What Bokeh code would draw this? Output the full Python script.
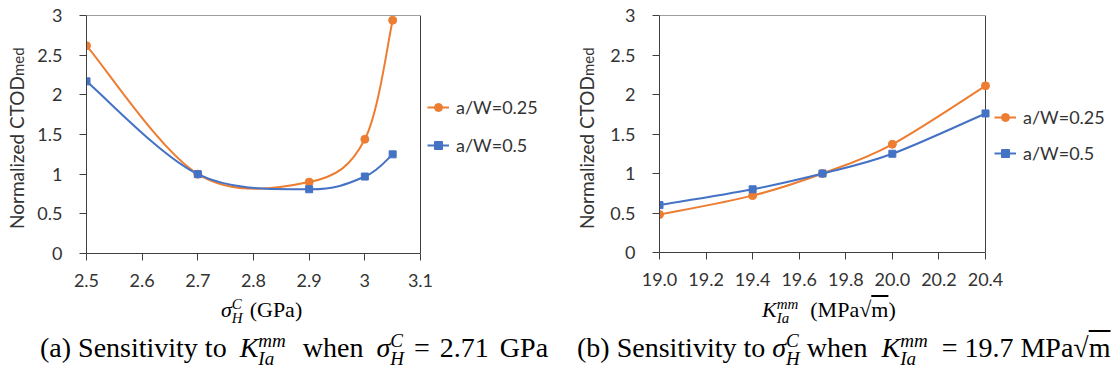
from bokeh.plotting import figure
from bokeh.models import (Legend, LegendItem, FixedTicker, Div, Range1d)
from bokeh.layouts import row, column
from bokeh.embed import file_html
from bokeh.resources import INLINE

# ---------------- data ----------------
series_names = ["a/W=0.25", "a/W=0.5"]

sigma_x = [2.5, 2.7, 2.9, 3.0, 3.05]
sigma_aw025 = [2.62, 1.00, 0.90, 1.44, 2.94]
sigma_aw05 = [2.17, 1.00, 0.81, 0.97, 1.25]

k_x = [19.0, 19.4, 19.7, 20.0, 20.4]
k_aw025 = [0.48, 0.72, 1.00, 1.37, 2.11]
k_aw05 = [0.60, 0.80, 1.00, 1.25, 1.76]

y_ticks = [0, 0.5, 1, 1.5, 2, 2.5, 3]
y_tick_labels = ["0", "0.5", "1", "1.5", "2", "2.5", "3"]
sigma_ticks = [2.5, 2.6, 2.7, 2.8, 2.9, 3.0, 3.1]
sigma_tick_labels = ["2.5", "2.6", "2.7", "2.8", "2.9", "3", "3.1"]
k_ticks = [19.0, 19.2, 19.4, 19.6, 19.8, 20.0, 20.2, 20.4]
k_tick_labels = ["19.0", "19.2", "19.4", "19.6", "19.8", "20.0", "20.2", "20.4"]

y_title = ("Normalized CTOD", "med")

ORANGE = "#ED7D31"
BLUE = "#4472C4"
AX = "#3f3f3f"
TXT = "#333333"
SANS = "Lato"
SERIF = "Liberation Serif"


def smooth(xs, ys, t=1.0 / 6.0):
    """Bezier control points (Excel-like smoothed line) from the data points."""
    n = len(xs)
    out = {k: [] for k in ("x0", "y0", "x1", "y1", "cx0", "cy0", "cx1", "cy1")}
    for i in range(n - 1):
        i0 = max(i - 1, 0)
        i3 = min(i + 2, n - 1)
        out["x0"].append(xs[i]); out["y0"].append(ys[i])
        out["x1"].append(xs[i + 1]); out["y1"].append(ys[i + 1])
        out["cx0"].append(xs[i] + (xs[i + 1] - xs[i0]) * t)
        out["cy0"].append(ys[i] + (ys[i + 1] - ys[i0]) * t)
        out["cx1"].append(xs[i + 1] - (xs[i3] - xs[i]) * t)
        out["cy1"].append(ys[i + 1] - (ys[i3] - ys[i]) * t)
    return out


def make_fig(width, axis_w, frame_h, left, top, bottom, xticks, xlabels):
    """Frame extends to the right edge (room for the legend); the axis box
    covers only the ticks' span."""
    frame_w = width - left
    x0, x1 = xticks[0], xticks[-1]
    x_end = x0 + (x1 - x0) * frame_w / axis_w
    p = figure(frame_width=frame_w, frame_height=frame_h,
               min_border_left=left, min_border_right=0,
               min_border_top=top, min_border_bottom=bottom,
               x_range=Range1d(x0, x_end), y_range=Range1d(y_ticks[0], y_ticks[-1]),
               output_backend="svg", toolbar_location=None,
               background_fill_color="white", border_fill_color="white")
    p.grid.visible = False
    p.outline_line_color = None
    p.xaxis.ticker = FixedTicker(ticks=xticks)
    p.xaxis.bounds = (x0, x1)
    p.xaxis.major_label_overrides = {t: l for t, l in zip(xticks, xlabels)}
    p.yaxis.ticker = FixedTicker(ticks=y_ticks)
    p.yaxis.major_label_overrides = {t: l for t, l in zip(y_ticks, y_tick_labels)}
    for ax in (p.xaxis[0], p.yaxis[0]):
        ax.axis_line_color = AX
        ax.major_tick_line_color = AX
        ax.major_tick_out = 7
        ax.major_tick_in = 0
        ax.minor_tick_line_color = None
        ax.major_label_text_font = SANS
        ax.major_label_text_font_size = "18px"
        ax.major_label_text_color = TXT
    p.xaxis.major_label_standoff = 13
    p.yaxis.major_label_standoff = 17
    # top and right sides of the plot box
    p.line(x=[x0, x1, x1], y=[y_ticks[-1], y_ticks[-1], y_ticks[0]],
           line_color=AX, line_width=1)
    return p


def add_series(p, xs, ys, color, marker, size, name):
    b = smooth(xs, ys)
    p.bezier(line_color=color, line_width=2, **b)
    ln = p.line(x=xs[:1], y=ys[:1], line_color=color, line_width=2)
    sc = p.scatter(x=xs, y=ys, marker=marker, size=size,
                   fill_color=color, line_color=color)
    return LegendItem(label=name, renderers=[ln, sc])


def add_legend(p, items, loc, spacing):
    lg = Legend(items=items, location=loc, orientation="vertical",
                glyph_width=22, glyph_height=20, label_height=20,
                spacing=spacing, padding=0, margin=0, label_standoff=7,
                border_line_color=None, background_fill_alpha=0,
                label_text_font=SANS, label_text_font_size="18px",
                label_text_color=TXT, label_text_baseline="middle")
    p.add_layout(lg)


# ---------------- left chart ----------------
p1 = make_fig(553, 334, 238, 86, 14, 73, sigma_ticks, sigma_tick_labels)
it1 = add_series(p1, sigma_x, sigma_aw025, ORANGE, "circle", 8, series_names[0])
it2 = add_series(p1, sigma_x, sigma_aw05, BLUE, "square", 7, series_names[1])
add_legend(p1, [it1, it2], (341, 97), 16)

# ---------------- right chart ----------------
p2 = make_fig(560, 326, 237, 106, 15, 73, k_ticks, k_tick_labels)
it3 = add_series(p2, k_x, k_aw025, ORANGE, "circle", 8, series_names[0])
it4 = add_series(p2, k_x, k_aw05, BLUE, "square", 7, series_names[1])
add_legend(p2, [it3, it4], (335, 88), 14)


# ---------------- texts (HTML overlay: axis titles with math, caption) ----------------
def stack(sup, sub, size="0.68em", shift="-0.42em"):
    return (f'<span style="display:inline-block;vertical-align:{shift};line-height:0.95;'
            f'font-size:{size};font-style:italic;text-align:left;">'
            f'<span style="display:block">{sup}</span>'
            f'<span style="display:block">{sub}</span></span>')


def gap(w):
    return f'<span style="display:inline-block;width:{w}px"></span>'


def absspan(left, top, inner, extra=""):
    return (f'<span style="position:absolute;left:{left}px;top:{top}px;'
            f'white-space:nowrap;{extra}">{inner}</span>')


def ytitle(left, top):
    inner = (f'{y_title[0]}<span style="font-size:15px">{y_title[1]}</span>')
    return absspan(left, top, inner,
                   f"font-family:{SANS};font-size:19px;line-height:22px;color:{TXT};"
                   "transform:rotate(-90deg);transform-origin:left top;")


sq = '√<span style="text-decoration:overline">m</span>'
xt1 = f'<i>σ</i>{stack("C", "H")}{gap(7)}(GPa)'
xt2 = f'<i>K</i>{stack("mm", "Ia")}{gap(12)}(MPa{sq})'
cap_a = (f'(a) Sensitivity to{gap(13)}<i>K</i>{stack("mm", "Ia")}{gap(17)}when{gap(13)}'
         f'<i>σ</i>{stack("C", "H")}{gap(10)}={gap(10)}2.71{gap(11)}GPa')
cap_b = (f'(b) Sensitivity to <i>σ</i>{stack("C", "H")} when&nbsp; '
         f'<i>K</i>{stack("mm", "Ia")}&nbsp;&nbsp;=&nbsp;19.7 MPa{sq}')

serif_xt = f"font-family:'{SERIF}';font-size:22px;line-height:24px;color:#000;"
serif_cap = f"font-family:'{SERIF}';font-size:28px;line-height:32px;color:#000;"

html = ('<div style="position:relative;width:1113px;height:52px;">'
        + ytitle(6, -96) + ytitle(576, -96)
        + absspan(221, -28, xt1, serif_xt)
        + absspan(762, -28, xt2, serif_xt)
        + absspan(40, 7, cap_a, serif_cap)
        + absspan(577, 7, cap_b, serif_cap)
        + '</div>')
caption = Div(text=html, width=1113, height=52, margin=0)

layout = column(row(p1, p2, spacing=0), caption, spacing=0)

open("out.html", "w").write(file_html(layout, INLINE))
